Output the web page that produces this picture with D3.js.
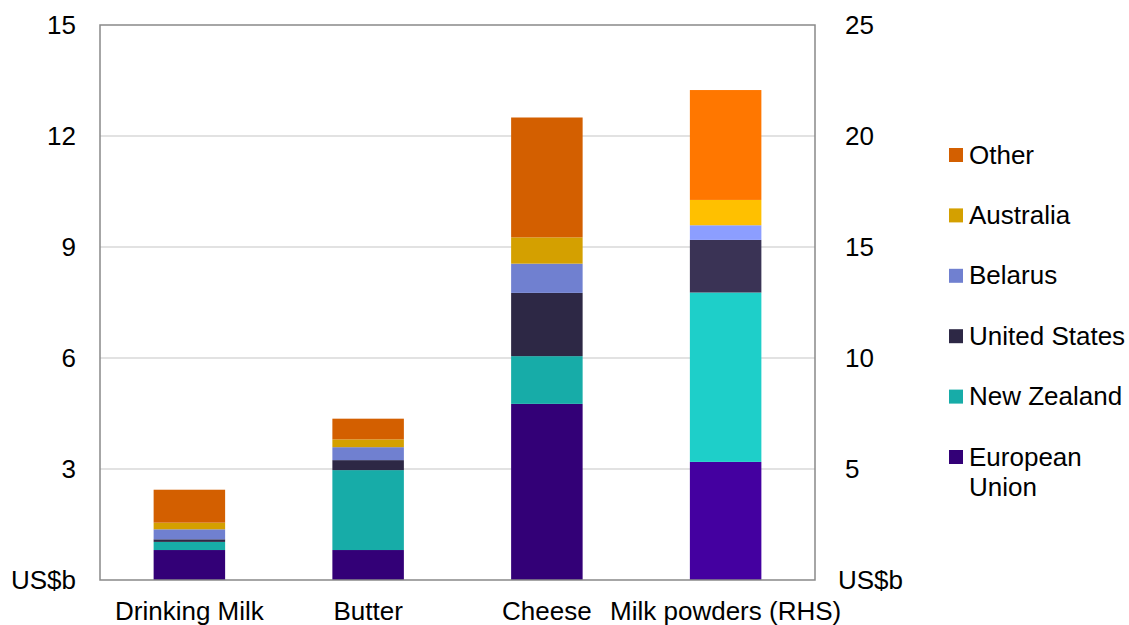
<!DOCTYPE html>
<html>
<head>
<meta charset="utf-8">
<script src="https://cdn.jsdelivr.net/npm/d3@7"></script>
<style>
  html, body { margin: 0; padding: 0; background: #fff; }
  svg { display: block; font-family: "Liberation Sans", Arial, sans-serif; }
</style>
</head>
<body>
<svg id="chart" width="1129" height="625"></svg>
<script>
// Dairy export values by product and exporter, US$ billions
const categories = ["Drinking Milk", "Butter", "Cheese", "Milk powders (RHS)"];
const series = ["European Union", "New Zealand", "United States", "Belarus", "Australia", "Other"];
const legendLabels = ["Other", "Australia", "Belarus", "United States", "New Zealand", "European\nUnion"];

// values per category, in stacking order (European Union at the bottom)
const drinkingMilk = [0.81, 0.22, 0.07, 0.27, 0.18, 0.89];
const butter       = [0.81, 2.16, 0.27, 0.35, 0.21, 0.56];
const cheese       = [4.76, 1.29, 1.71, 0.79, 0.71, 3.24];
const milkPowders  = [5.32, 7.63, 2.37, 0.66, 1.14, 4.95]; // right-hand scale

const leftTicks = [0, 3, 6, 9, 12, 15];
const rightTicks = [0, 5, 10, 15, 20, 25];

// palettes: standard colours and the brighter set used for the RHS bar
const colours = ["#330077", "#17aca8", "#2d2845", "#7080d0", "#d4a000", "#d35f00"];
const coloursRHS = ["#4400a0", "#1ecfc9", "#3a3355", "#8c9eff", "#ffc000", "#ff7700"];

const rows = [drinkingMilk, butter, cheese, milkPowders];
const onRight = [false, false, false, true];

const svg = d3.select("#chart");
const plot = { left: 100, right: 815, top: 25, bottom: 580 };

const x = d3.scaleBand().domain(categories).range([plot.left, plot.right]).paddingInner(0.6).paddingOuter(0.3);
const yL = d3.scaleLinear().domain([0, 15]).range([plot.bottom, plot.top]);
const yR = d3.scaleLinear().domain([0, 25]).range([plot.bottom, plot.top]);

// gridlines
svg.append("g")
  .selectAll("line")
  .data(leftTicks.filter(d => d > 0 && d < 15))
  .join("line")
  .attr("x1", plot.left).attr("x2", plot.right)
  .attr("y1", d => yL(d)).attr("y2", d => yL(d))
  .attr("stroke", "#d9d9d9").attr("stroke-width", 1.5);

// stacked bars
const stackGen = d3.stack().keys(d3.range(series.length));
categories.forEach((cat, ci) => {
  const stacked = stackGen([rows[ci]]);
  const ys = onRight[ci] ? yR : yL;
  const pal = onRight[ci] ? coloursRHS : colours;
  svg.append("g")
    .selectAll("rect")
    .data(stacked)
    .join("rect")
    .attr("x", x(cat))
    .attr("width", x.bandwidth())
    .attr("y", s => ys(s[0][1]))
    .attr("height", s => ys(s[0][0]) - ys(s[0][1]))
    .attr("fill", (s, i) => pal[i]);
});

// plot frame
svg.append("rect")
  .attr("x", plot.left).attr("y", plot.top)
  .attr("width", plot.right - plot.left).attr("height", plot.bottom - plot.top)
  .attr("fill", "none").attr("stroke", "#898989").attr("stroke-width", 1.5);

const fontSize = 26;

// left axis
const leftAxis = d3.axisLeft(yL).tickValues(leftTicks).tickSize(0).tickPadding(24)
  .tickFormat(d => d === 0 ? "US$b" : d);
svg.append("g").attr("transform", `translate(${plot.left},0)`).call(leftAxis)
  .call(g => g.select(".domain").remove())
  .selectAll("text").attr("font-size", fontSize).attr("fill", "#000")
  .attr("font-family", "Liberation Sans, Arial, sans-serif");

// right axis
const rightAxis = d3.axisRight(yR).tickValues(rightTicks).tickSize(0).tickPadding(30)
  .tickFormat(d => d === 0 ? "US$b" : d);
svg.append("g").attr("transform", `translate(${plot.right},0)`).call(rightAxis)
  .call(g => g.select(".domain").remove())
  .selectAll("text").attr("font-size", fontSize).attr("fill", "#000")
  .attr("font-family", "Liberation Sans, Arial, sans-serif")
  .attr("dx", d => d === 0 ? -7 : 0);

// category axis
const bottomAxis = d3.axisBottom(x).tickSize(0).tickPadding(22);
svg.append("g").attr("transform", `translate(0,${plot.bottom})`).call(bottomAxis)
  .call(g => g.select(".domain").remove())
  .selectAll("text").attr("font-size", fontSize).attr("fill", "#000")
  .attr("font-family", "Liberation Sans, Arial, sans-serif");

// legend
const legend = svg.append("g").attr("transform", "translate(949,148)");
const legendColours = colours.slice().reverse();
legendLabels.forEach((lab, i) => {
  const g = legend.append("g").attr("transform", `translate(0,${i * 60.4})`);
  g.append("rect").attr("width", 14).attr("height", 14).attr("fill", legendColours[i]);
  const t = g.append("text").attr("x", 20).attr("y", 15.5)
    .attr("font-size", fontSize).attr("fill", "#000");
  lab.split("\n").forEach((line, li) => {
    t.append("tspan").attr("x", 20).attr("dy", li === 0 ? 0 : 30).text(line);
  });
});
</script>
</body>
</html>
